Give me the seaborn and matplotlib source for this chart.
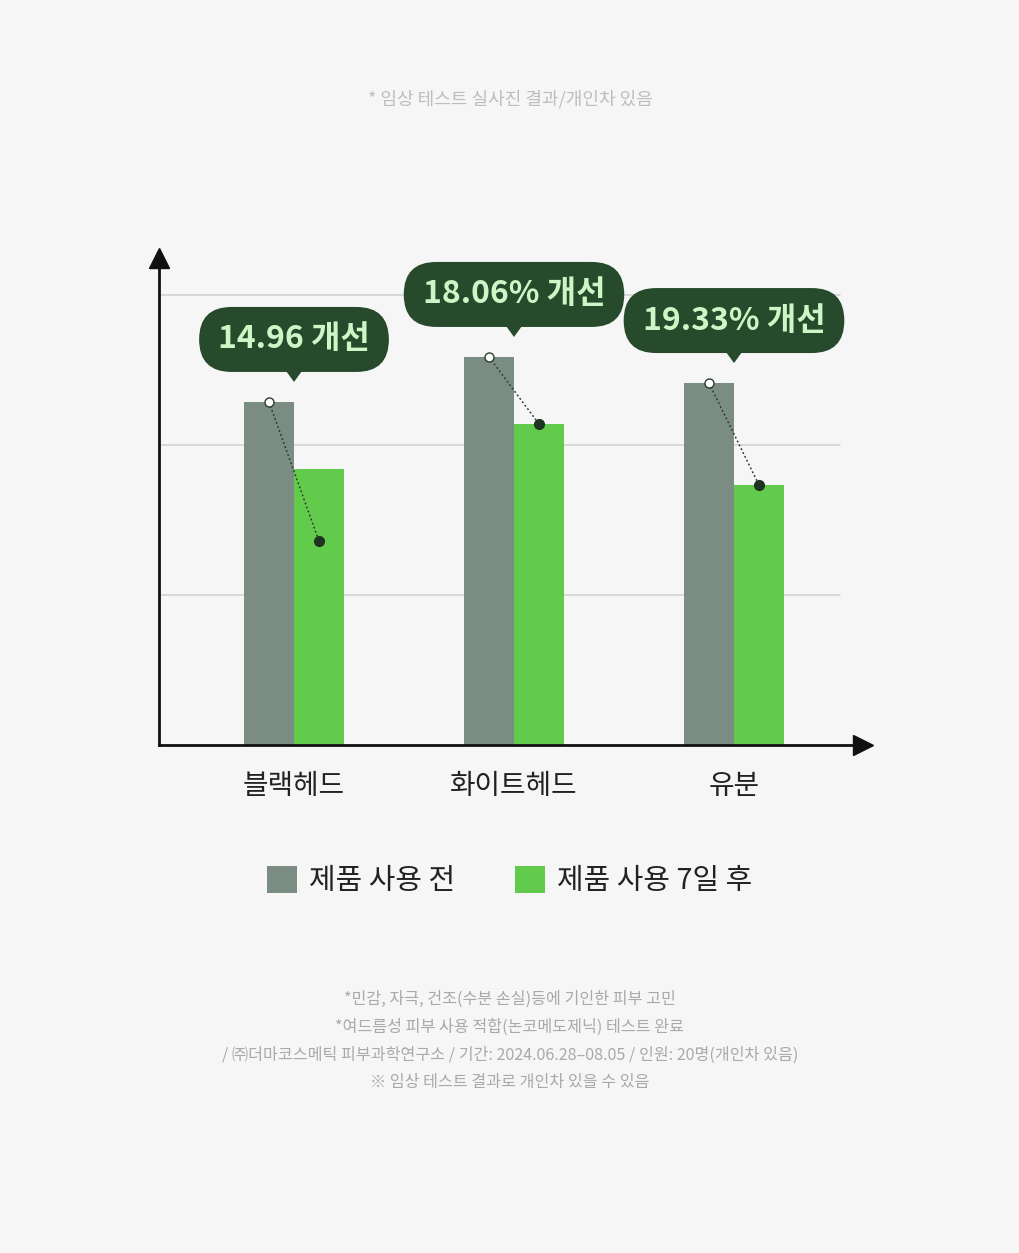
import matplotlib
matplotlib.use("Agg")
import matplotlib.pyplot as plt
from matplotlib.patches import FancyBboxPatch, Polygon
import seaborn as sns
import pandas as pd

# ---------------- data ----------------
categories = ["블랙헤드", "화이트헤드", "유분"]
series_names = ["제품 사용 전", "제품 사용 7일 후"]
before_values = [2.287, 2.587, 2.413]
after_values = [1.84, 2.14, 1.733]
line_end_values = [1.36, 2.14, 1.733]
callout_labels = ["14.96 개선", "18.06% 개선", "19.33% 개선"]
grid_levels = [1, 2, 3]

top_note = "* 임상 테스트 실사진 결과/개인차 있음"
footer_lines = [
    "*민감, 자극, 건조(수분 손실)등에 기인한 피부 고민",
    "*여드름성 피부 사용 적합(논코메도제닉) 테스트 완료",
    "/ ㈜더마코스메틱 피부과학연구소 / 기간: 2024.06.28–08.05 / 인원: 20명(개인차 있음)",
    "※ 임상 테스트 결과로 개인차 있을 수 있음",
]

BG = "#f6f6f6"
GREY = "#7b8c82"
GREEN = "#62cb4c"
BUBBLE = "#264a2b"
BUBBLE_TXT = "#cdf6c6"

sns.set_theme(style="white")
plt.rcParams["font.family"] = ["Noto Sans CJK KR", "DejaVu Sans"]

W, H = 1020, 1253
fig = plt.figure(figsize=(W / 100, H / 100), dpi=100, facecolor=BG)

ax_left, ax_right, ax_top, ax_bottom = 159, 863, 258, 745
ax = fig.add_axes([ax_left / W, 1 - ax_bottom / H,
                   (ax_right - ax_left) / W, (ax_bottom - ax_top) / H])
ax.set_facecolor(BG)

df = pd.DataFrame({
    "category": categories * 2,
    "series": [series_names[0]] * 3 + [series_names[1]] * 3,
    "value": before_values + after_values,
})

bar_width = 100 / 220
sns.barplot(data=df, x="category", y="value", hue="series",
            palette=[GREY, GREEN], width=bar_width, dodge=True,
            saturation=1, ax=ax, legend=True, zorder=3, linewidth=0)

ax.set_xlim((ax_left - 294) / 220, (ax_right - 294) / 220)
ax.set_ylim(0, (745 - ax_top) / 150)

for g in grid_levels:
    ax.axhline(g, xmin=0, xmax=(840 - ax_left) / (ax_right - ax_left),
               color="#cfcfcf", lw=1.1, zorder=1)

for s in ["top", "right"]:
    ax.spines[s].set_visible(False)
for s in ["left", "bottom"]:
    ax.spines[s].set_color("#111111")
    ax.spines[s].set_linewidth(2)
    ax.spines[s].set_zorder(5)
ax.plot([0], [1], marker="^", ms=15, color="#111111", transform=ax.transAxes,
        clip_on=False, zorder=6)
ax.plot([1], [0], marker=">", ms=15, color="#111111", transform=ax.transAxes,
        clip_on=False, zorder=6)

ax.set_yticks([])
ax.set_xlabel("")
ax.set_ylabel("")
ax.tick_params(axis="x", length=0, pad=19, labelsize=20, labelcolor="#222222")

off = bar_width / 4
for i, (b, e) in enumerate(zip(before_values, line_end_values)):
    ax.plot([i - off, i + off], [b, e], ls=(0, (1.2, 1.6)), color="#2b3b2f",
            lw=1.1, zorder=7)
    ax.plot([i - off], [b], marker="o", ms=6.5, mfc="white", mec="#2b3b2f",
            mew=1, zorder=8)
    ax.plot([i + off], [e], marker="o", ms=7, mfc="#1f3323", mec="#1f3323",
            zorder=8)

handles, labels = ax.get_legend_handles_labels()
leg = fig.legend(handles, labels, loc="center", bbox_to_anchor=(0.4995, 1 - 881 / H),
                 ncol=2, frameon=False, fontsize=20.8, handlelength=1.05,
                 handleheight=1.05, handletextpad=0.42, columnspacing=2.05,
                 borderaxespad=0)
for t in leg.get_texts():
    t.set_color("#222222")
if ax.get_legend() is not None:
    ax.get_legend().remove()

fig.canvas.draw()
renderer = fig.canvas.get_renderer()
bubble_h = 65
for i, (b, lab) in enumerate(zip(before_values, callout_labels)):
    tip_x, tip_y = ax.transData.transform((i, b))
    tip_y += 20
    box_bottom = tip_y + 10
    cy = box_bottom + bubble_h / 2
    t = ax.text(tip_x, cy, lab, transform=None, ha="center", va="center",
                fontsize=23, fontweight="bold", color=BUBBLE_TXT, zorder=11,
                clip_on=False)
    ext = t.get_window_extent(renderer)
    bw = ext.width + 38
    patch = FancyBboxPatch((tip_x - bw / 2, box_bottom), bw, bubble_h,
                           boxstyle=f"round,pad=0,rounding_size={bubble_h/2}",
                           transform=None, fc=BUBBLE, ec="none", zorder=10,
                           clip_on=False)
    ax.add_artist(patch)
    tri = Polygon([[tip_x - 8, box_bottom + 1], [tip_x + 8, box_bottom + 1],
                   [tip_x, tip_y]], closed=True, transform=None, fc=BUBBLE,
                  ec="none", zorder=10, clip_on=False)
    ax.add_artist(tri)

fig.text(0.5, 1 - 99 / H, top_note, ha="center", va="center", fontsize=13,
         color="#bdbdbd")
for k, line in enumerate(footer_lines):
    fig.text(0.5, 1 - (999 + 28 * k) / H, line, ha="center", va="center",
             fontsize=11.6, color="#a9a9a9")

fig.savefig("out.png", dpi=100, facecolor=BG)
